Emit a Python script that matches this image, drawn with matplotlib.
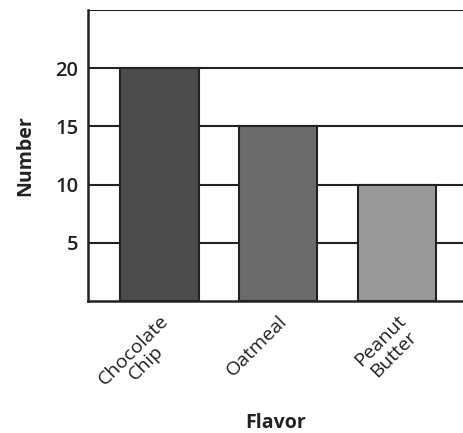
import matplotlib
matplotlib.use("Agg")
import matplotlib.pyplot as plt

categories = ["Chocolate\nChip", "Oatmeal", "Peanut\nButter"]
values = [20, 15, 10]
colors = ["#4b4b4b", "#6b6b6b", "#999999"]
yticks = [5, 10, 15, 20]

plt.rcParams['font.family'] = ['Open Sans', 'DejaVu Sans']

fig = plt.figure(figsize=(4.63, 4.33), dpi=100)
ax = fig.add_axes([88/463, 1-301/433, 1-88/463, (301-10)/433])

x = list(range(len(categories)))
ax.bar(x, values, width=0.66, color=colors, edgecolor="#222222", linewidth=1.5, zorder=3)

ax.set_ylim(0, 25)
ax.set_xlim(-0.6, 2.555)
ax.set_yticks(yticks)
ax.set_yticklabels([str(t) for t in yticks], fontsize=14.5, fontweight='semibold', color="#222222")
ax.yaxis.grid(True, color="#222222", linewidth=1.5, zorder=0)
ax.axhline(25, color="#222222", linewidth=1.5, zorder=1)
ax.tick_params(axis='y', length=0, pad=7)
ax.tick_params(axis='x', length=0, pad=8)
ax.set_xticks(x)
ax.set_xticklabels(categories, rotation=45, ha='right', rotation_mode='anchor',
                   multialignment='center', fontsize=14, color="#222222",
                   linespacing=1.0)

for s in ['top', 'right']:
    ax.spines[s].set_visible(False)
for s in ['left', 'bottom']:
    ax.spines[s].set_linewidth(1.8)
    ax.spines[s].set_color("#222222")

ax.set_ylabel("Number", fontsize=14, fontweight='bold', color="#222222", labelpad=14)
ax.set_xlabel("Flavor", fontsize=14, fontweight='bold', color="#222222", labelpad=8)

fig.savefig("out.png", dpi=100)
